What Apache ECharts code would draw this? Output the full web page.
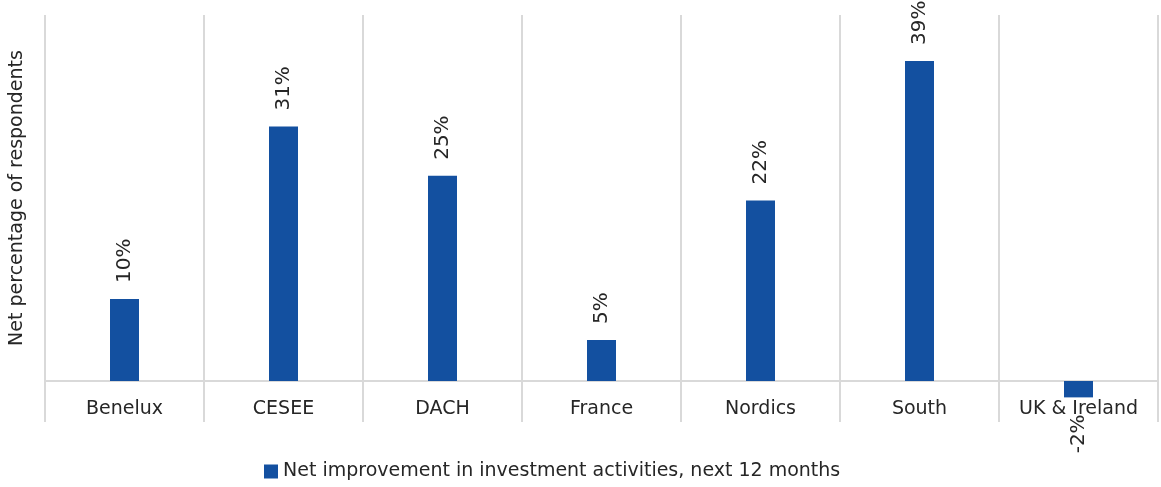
<!DOCTYPE html>
<html>
<head>
<meta charset="utf-8">
<script src="https://cdn.jsdelivr.net/npm/echarts@6/dist/echarts.min.js"></script>
<style>
  html, body { margin: 0; padding: 0; background: #fff; }
  #chart { width: 1161px; height: 487px; }
</style>
</head>
<body>
<div id="chart"></div>
<script>
// Regions surveyed
const categories = ['Benelux', 'CESEE', 'DACH', 'France', 'Nordics', 'South', 'UK & Ireland'];
// Net percentage of respondents expecting improvement
const netImprovement = [10, 31, 25, 5, 22, 39, -2];
const seriesName = 'Net improvement in investment activities, next 12 months';
const axisTitle = 'Net percentage of respondents';

const FONT = '"DejaVu Sans", "Liberation Sans", sans-serif';
const TEXT = '#262626';
const BAR = '#1350A0';

const chart = echarts.init(document.getElementById('chart'), null, { renderer: 'canvas' });

chart.setOption({
  animation: false,
  grid: { left: 45, right: 3, top: 15, bottom: 65, containLabel: false },
  legend: {
    data: [seriesName],
    left: 259,
    top: 457,
    itemWidth: 14,
    itemHeight: 14,
    itemGap: 3,
    icon: 'rect',
    itemStyle: { borderWidth: 0 },
    textStyle: { color: TEXT, fontSize: 19, fontFamily: FONT }
  },
  xAxis: {
    type: 'category',
    data: categories,
    axisLine: { onZero: true, lineStyle: { color: '#d9d9d9', width: 2 } },
    axisTick: { show: false },
    splitLine: { show: true, lineStyle: { color: '#d9d9d9', width: 2 } },
    axisLabel: {
      color: TEXT,
      fontSize: 19,
      fontFamily: FONT,
      margin: -22,
      interval: 0
    }
  },
  yAxis: {
    type: 'value',
    min: -5,
    max: 44.6,
    axisLabel: { show: false },
    axisLine: { show: false },
    axisTick: { show: false },
    splitLine: { show: false }
  },
  graphic: [{
    type: 'text',
    x: 17,
    y: 198,
    rotation: Math.PI / 2,
    style: {
      text: axisTitle,
      fill: TEXT,
      font: '19px ' + FONT,
      align: 'center',
      verticalAlign: 'middle'
    }
  }],
  series: [{
    name: seriesName,
    type: 'bar',
    barWidth: 29,
    itemStyle: { color: BAR },
    data: netImprovement.map(v => ({
      value: v,
      label: v < 0
        ? { position: 'bottom', align: 'right', distance: 17 }
        : { position: 'top', align: 'left', distance: 16 }
    })),
    label: {
      show: true,
      rotate: 90,
      verticalAlign: 'middle',
      color: TEXT,
      fontSize: 20,
      fontFamily: FONT,
      formatter: p => p.value + '%'
    }
  }]
});
</script>
</body>
</html>
